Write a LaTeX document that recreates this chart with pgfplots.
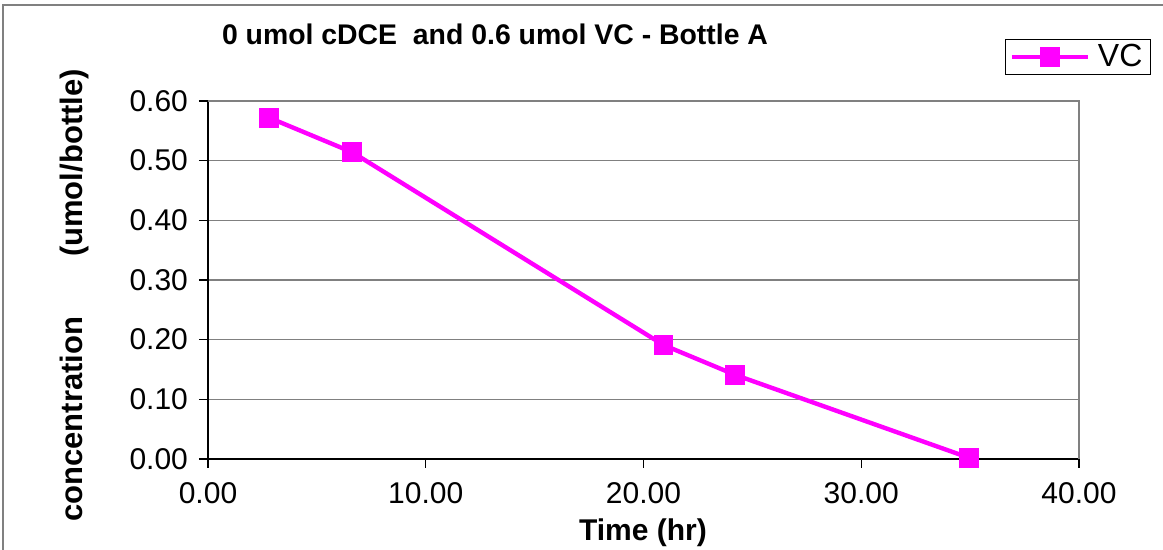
\documentclass[border=0pt]{standalone}
\usepackage{fontspec}
\setmainfont{Liberation Sans}
\usepackage{pgfplots}
\pgfplotsset{compat=1.18}
\definecolor{vc}{HTML}{FF00FF}
\definecolor{framegray}{HTML}{808080}
\begin{document}
\begin{tikzpicture}[x=0.5pt,y=0.5pt]
\useasboundingbox (0,0) rectangle (1163,550);
\draw[framegray, line width=0.75pt] (3,-10) -- (3,545) -- (1175,545);
\begin{axis}[
  at={(104pt,45.5pt)}, anchor=south west,
  scale only axis, width=435.5pt, height=179pt,
  xmin=0, xmax=40, ymin=0, ymax=0.6,
  xtick={0,10,20,30,40},
  ytick={0,0.1,0.2,0.3,0.4,0.5,0.6},
  axis lines*=left,
  axis line style={black, line width=0.9pt},
  ymajorgrids,
  grid style={framegray, line width=0.6pt},
  tick align=outside,
  major tick length=4.5pt,
  tick style={black, line width=0.6pt},
  ticklabel style={font=\fontsize{15}{17}\selectfont},
  yticklabel style={xshift=-2pt},
  xticklabel style={yshift=-3.5pt},
  /pgf/number format/fixed,
  /pgf/number format/fixed zerofill,
  /pgf/number format/precision=2,
  /pgf/number format/assume math mode=true,
  clip=false,
  legend style={at={(axis description cs:0.9151,1.1732)}, anchor=north west,
    draw=black, line width=0.5pt, inner xsep=2pt, inner ysep=0.5pt,
    font=\fontsize{16}{17}\selectfont, legend cell align=left},
  legend image code/.code={
    \draw[mark repeat=2,mark phase=2,#1] plot coordinates {(0pt,0pt) (19pt,0pt) (38pt,0pt)};
  },
]
\addplot[vc, line width=2.2pt, mark=square*, mark size=4.7pt,
  mark options={solid, fill=vc, draw=vc, line width=0pt}]
  coordinates {(2.81,0.572) (6.63,0.514) (20.92,0.191) (24.21,0.141) (34.95,0.002)};
\addlegendentry{\hspace{2pt}VC\hspace{8pt}}
\draw[framegray, line width=1.3pt] (rel axis cs:0,1) -- (rel axis cs:1,1) -- (rel axis cs:1,0);
\end{axis}
\node[font=\bfseries\fontsize{14.2}{16}\selectfont, anchor=base] at (495,505) {0 umol cDCE\ \ and 0.6 umol VC - Bottle A};
\node[font=\bfseries\fontsize{15.5}{17}\selectfont, anchor=base, rotate=90] at (82,254.5) {concentration\hspace{30pt}(umol/bottle)};
\node[font=\bfseries\fontsize{15}{17}\selectfont, anchor=base] at (643,9) {Time (hr)};
\end{tikzpicture}
\end{document}
